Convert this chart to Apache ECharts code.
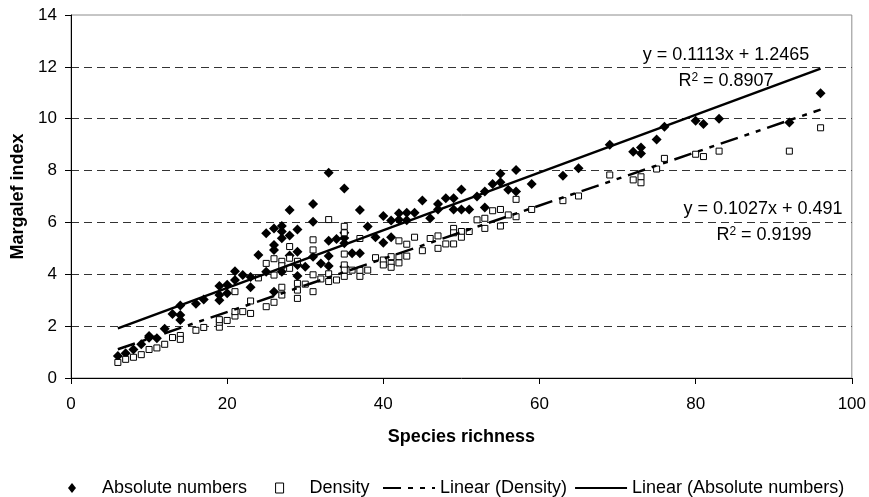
<!DOCTYPE html>
<html><head><meta charset="utf-8">
<script src="https://cdn.jsdelivr.net/npm/echarts@6/dist/echarts.min.js"></script>
<style>html,body{margin:0;padding:0;background:#fff}#c{width:869px;height:497px}</style>
</head><body><div id="c"></div>
<script>
// Absolute numbers (species richness, Margalef index)
const absX = [6,7,8,9, 10,10, 11,12,13, 14,14,14, 16,17, 19,19,19, 20,20, 21,21, 22, 23,23, 24, 25,25,
  26,26,26,26, 27,27,27,27, 28,28,28, 29,29,29,29, 30, 31,31,31, 32, 33,33,33,33, 34, 35,35,35,35,35,
  36, 37,37, 38, 39, 40,40, 41,41, 42,42, 43,43, 44, 45, 46, 47,47, 48, 49,49, 50,50, 51, 52, 53,53,
  54, 55,55, 56, 57,57, 59, 63, 65, 69, 72, 73,73, 75, 76, 80, 81, 83, 92, 96];
const absY = [0.85,0.95,1.1,1.3, 1.55,1.62, 1.53,1.9,2.47, 2.8,2.43,2.24, 2.86,3.03, 3.55,3.2,3.0, 3.27,3.6, 4.12,3.78, 3.97, 3.9,3.5, 4.74, 5.58,4.1,
  5.77,5.13,4.94,3.33, 5.86,5.65,5.39,4.1, 6.48,5.5,4.72, 5.73,4.87,4.36,3.93, 4.29, 6.71,6.03,4.68, 4.42, 7.92,5.29,4.71,4.32, 5.36, 7.31,5.6,5.4,5.2,4.29,
  4.81, 6.48,4.81, 5.84, 5.43, 6.25,5.22, 6.07,5.43, 6.35,6.1, 6.37,6.08, 6.37, 6.85, 6.16, 6.71,6.5, 6.93, 6.93,6.5, 7.27,6.5, 6.5, 7.0, 7.19,6.58,
  7.48, 7.88,7.55, 7.26, 8.02,7.19, 7.48, 7.8, 8.09, 9.0, 8.73, 8.89,8.66, 9.2, 9.69, 9.92, 9.8, 10.0, 9.85, 10.98];

// Density
const denX = [6,7,8,9,10,11,12,13, 14,14, 16,17, 19,19,19, 20, 21,21,21, 22, 23,23, 24, 25,25, 26,26,26,
  27,27,27,27, 28,28,28, 29,29,29,29, 30, 31,31,31,31, 32, 33,33,33, 34, 35,35,35,35,35,35, 36, 37,37,37,
  38, 39, 40,40, 41,41,41, 42,42,42, 43,43, 44, 45, 46, 47,47, 48, 49,49,49, 50,50, 51, 52, 53,53, 54,
  55,55, 56, 57,57, 59, 63, 65, 69, 72, 73,73, 75, 76, 80, 81, 83, 92, 96];
const denY = [0.6,0.72,0.8,0.9,1.1,1.16,1.3,1.56, 1.64,1.49, 1.84,1.95, 1.96,2.15,2.25, 2.22, 2.39,2.56,3.33, 2.56, 2.49,2.97, 3.86, 4.42,2.75, 4.6,3.97,2.92,
  4.5,4.33,3.5,3.2, 5.07,4.62,4.23, 4.5,3.65,3.39,3.07, 3.62, 5.33,4.94,3.98,3.33, 3.82, 6.11,4.02,3.72, 3.78, 5.85,5.6,4.78,4.36,4.16,3.92, 4.16, 5.38,4.15,3.92,
  4.16, 4.64, 4.55,4.36, 4.68,4.42,4.27, 5.29,4.68,4.44, 5.16,4.7, 5.43, 4.91, 5.38, 5.48,5.0, 5.17, 5.77,5.6,5.17, 5.65,5.43, 5.65, 6.1, 6.16,5.77, 6.45,
  6.5,5.86, 6.29, 6.89,6.22, 6.5, 6.84, 7.02, 7.83, 7.64, 7.76,7.53, 8.06, 8.47, 8.63, 8.54, 8.75, 8.75, 9.65];

// Trendline coefficients as printed: [slope, intercept], and fitted x range
const absFit = [0.1113, 1.2465];
const denFit = [0.1027, 0.491];
const fitRange = [6, 96];
const absEq = ['y = 0.1113x + 1.2465', '0.8907'];
const denEq = ['y = 0.1027x + 0.491', '0.9199'];

const FONT = 'Liberation Sans, Arial, sans-serif';
const zip = (xs, ys) => xs.map((x, i) => [x, ys[i]]);
const fitLine = f => fitRange.map(x => [x, f[0] * x + f[1]]);

const chart = echarts.init(document.getElementById('c'), null, {renderer: 'canvas'});
chart.setOption({
  animation: false,
  backgroundColor: '#fff',
  textStyle: {fontFamily: FONT, color: '#000'},
  grid: {left: 71, right: 15, top: 15, bottom: 119, show: true, borderColor: '#8c8c8c', borderWidth: 1},
  xAxis: {
    type: 'value', min: 0, max: 100, interval: 20,
    name: 'Species richness', nameLocation: 'middle', nameGap: 50,
    nameTextStyle: {fontFamily: FONT, fontSize: 18, fontWeight: 'bold', color: '#000'},
    axisLine: {show: true, onZero: false, lineStyle: {color: '#000', width: 1}},
    axisTick: {show: true, length: 6, lineStyle: {color: '#000'}},
    axisLabel: {fontFamily: FONT, fontSize: 17, color: '#000', margin: 18},
    splitLine: {show: false}
  },
  yAxis: {
    type: 'value', min: 0, max: 14, interval: 2,
    name: 'Margalef index', nameLocation: 'middle', nameGap: 38, nameRotate: 90,
    nameTextStyle: {fontFamily: FONT, fontSize: 18, fontWeight: 'bold', color: '#000'},
    axisLine: {show: true, onZero: false, lineStyle: {color: '#000', width: 1}},
    axisTick: {show: true, length: 6, lineStyle: {color: '#000'}},
    axisLabel: {fontFamily: FONT, fontSize: 17, color: '#000', margin: 14},
    splitLine: {show: true, showMinLine: false, showMaxLine: false,
      lineStyle: {color: '#333', width: 1, type: [8, 5]}}
  },
  legend: [
    {
      left: 63, top: 474, itemWidth: 8, itemHeight: 10, itemGap: 28,
      textStyle: {fontFamily: FONT, fontSize: 18, color: '#000', padding: [0, 0, 0, 21]},
      data: [
        {name: 'Absolute numbers', icon: 'diamond', itemStyle: {color: '#000'}},
        {name: 'Density', icon: 'rect', itemStyle: {color: '#fff', borderColor: '#000', borderWidth: 1}}
      ]
    },
    {
      left: 377, top: 474, itemWidth: 52, itemHeight: 14, itemGap: 7,
      itemStyle: {opacity: 0},
      textStyle: {fontFamily: FONT, fontSize: 18, color: '#000'},
      data: ['Linear (Density)', 'Linear (Absolute numbers)']
    }
  ],
  series: [
    {
      name: 'Absolute numbers', type: 'scatter', symbol: 'diamond', symbolSize: 10,
      itemStyle: {color: '#000', opacity: 1}, data: zip(absX, absY)
    },
    {
      name: 'Density', type: 'scatter', symbol: 'rect', symbolSize: 6,
      itemStyle: {color: '#fff', borderColor: '#000', borderWidth: 1, opacity: 1}, data: zip(denX, denY)
    },
    {
      name: 'Linear (Density)', type: 'line', symbol: 'none', silent: true,
      lineStyle: {color: '#000', width: 2.5, type: [18, 7, 5, 7, 5, 7]},
      itemStyle: {color: '#000'}, data: fitLine(denFit)
    },
    {
      name: 'Linear (Absolute numbers)', type: 'line', symbol: 'none', silent: true,
      lineStyle: {color: '#000', width: 2.5, type: 'solid'},
      itemStyle: {color: '#000'}, data: fitLine(absFit)
    }
  ],
  graphic: [
    {type: 'text', x: 726, y: 55, z: 100, style: {text: absEq[0], fontFamily: FONT, fontSize: 18, fill: '#000', align: 'center', verticalAlign: 'middle'}},
    {type: 'text', x: 726, y: 81, z: 100, style: {text: 'R{sup|2} = ' + absEq[1], fontFamily: FONT, fontSize: 18, fill: '#000', align: 'center', verticalAlign: 'middle',
      rich: {sup: {fontFamily: FONT, fontSize: 12, verticalAlign: 'top', fill: '#000'}}}},
    {type: 'text', x: 763, y: 209, z: 100, style: {text: denEq[0], fontFamily: FONT, fontSize: 18, fill: '#000', align: 'center', verticalAlign: 'middle'}},
    {type: 'text', x: 764, y: 235, z: 100, style: {text: 'R{sup|2} = ' + denEq[1], fontFamily: FONT, fontSize: 18, fill: '#000', align: 'center', verticalAlign: 'middle',
      rich: {sup: {fontFamily: FONT, fontSize: 12, verticalAlign: 'top', fill: '#000'}}}}
  ]
});
</script></body></html>
